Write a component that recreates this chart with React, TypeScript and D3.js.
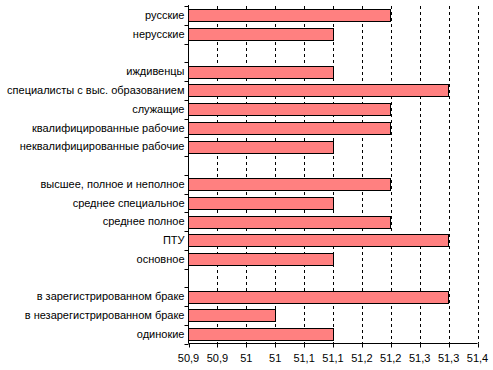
import React from 'react'
import * as d3 from 'd3'

const categories = [
  'русские', 'нерусские', '',
  'иждивенцы', 'специалисты с выс. образованием', 'служащие',
  'квалифицированные рабочие', 'неквалифицированные рабочие', '',
  'высшее, полное и неполное', 'среднее специальное', 'среднее полное', 'ПТУ', 'основное', '',
  'в зарегистрированном браке', 'в незарегистрированном браке', 'одинокие',
]
const values: (number | null)[] = [
  51.25, 51.15, null,
  51.15, 51.35, 51.25, 51.25, 51.15, null,
  51.25, 51.15, 51.25, 51.35, 51.15, null,
  51.35, 51.05, 51.15,
]
const xTicks = [50.9, 50.95, 51, 51.05, 51.1, 51.15, 51.2, 51.25, 51.3, 51.35, 51.4]
const xTickLabels = ['50,9', '50,9', '51', '51', '51,1', '51,1', '51,2', '51,2', '51,3', '51,3', '51,4']

const width = 493
const height = 370
const left = 188.5
const right = 477.5
const top = 6
const bottom = 343.5
const font = '"Liberation Sans", Arial, sans-serif'

export default function App() {
  const x = d3.scaleLinear().domain([50.9, 51.4]).range([left, right])
  const idx = categories.map((_, i) => String(i))
  const y = d3.scaleBand().domain(idx).range([top, bottom]).paddingInner(0.36).paddingOuter(0.18)
  const step = (bottom - top) / categories.length

  return (
    <svg width={width} height={height} style={{ position: 'absolute', left: 0, top: 0, background: '#fff' }}>
      {/* dashed gridlines */}
      {xTicks.slice(1).map((t, i) => (
        <line key={'g' + i} x1={Math.round(x(t)) + 0.5} x2={Math.round(x(t)) + 0.5} y1={top} y2={bottom}
          stroke="#000" strokeDasharray="3,3" />
      ))}
      {/* bars */}
      {values.map((v, i) => v == null ? null : (
        <rect key={'b' + i} x={left} y={Math.round(y(String(i))!) + 0.5}
          width={Math.round(x(v) - left)} height={Math.round(y.bandwidth())}
          fill="#FF8080" stroke="#000" strokeWidth={1} />
      ))}
      {/* y axis */}
      <line x1={left} x2={left} y1={top - 1} y2={bottom} stroke="#000" />
      {categories.concat(['']).map((_, i) => (
        <line key={'yt' + i} x1={left - 4} x2={left} y1={Math.round(top + i * step) + 0.5} y2={Math.round(top + i * step) + 0.5} stroke="#000" />
      ))}
      {categories.map((c, i) => (
        <text key={'l' + i} x={left - 4} y={y(String(i))! + y.bandwidth() / 2} dy="0.35em"
          textAnchor="end" fontFamily={font} fontSize={11} fill="#000">{c}</text>
      ))}
      {/* x axis */}
      <line x1={left} x2={right} y1={bottom} y2={bottom} stroke="#000" />
      {xTicks.map((t, i) => (
        <g key={'xt' + i}>
          <line x1={Math.round(x(t)) + 0.5} x2={Math.round(x(t)) + 0.5} y1={bottom} y2={bottom + 4} stroke="#000" />
          <text x={x(t)} y={bottom + 15} dy="0.35em" textAnchor="middle" fontFamily={font} fontSize={11} fill="#000">
            {xTickLabels[i]}
          </text>
        </g>
      ))}
    </svg>
  )
}
